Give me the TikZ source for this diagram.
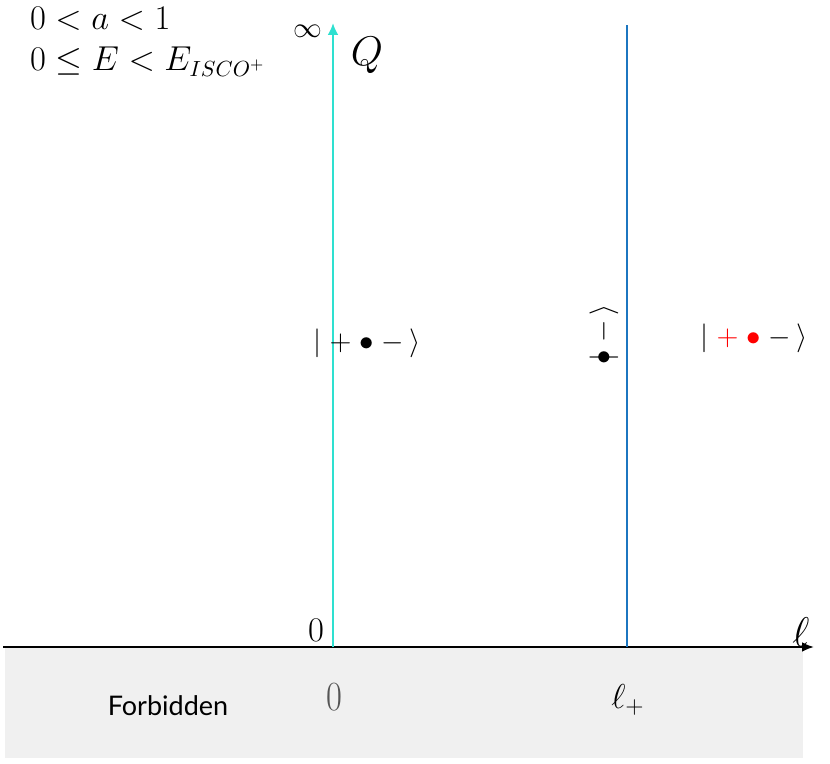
\documentclass[tikz,border=0pt]{standalone}
\usepackage{amsmath}
\usepackage{graphicx}
\usepackage{fontspec}
\newfontfamily\forbfont{Lato}
\usetikzlibrary{arrows.meta}
\definecolor{cyanline}{RGB}{46,224,208}
\definecolor{blueline}{RGB}{28,118,192}
\definecolor{forbgray}{RGB}{240,240,240}
\definecolor{zerogray}{RGB}{85,85,85}
\tikzset{
  lbl/.style={inner sep=0pt, outer sep=0pt},
  vline/.style={line width=1.3pt},
  condtext/.style={lbl,anchor=base west,font=\fontsize{16.2}{18}\selectfont},
}
\begin{document}
\begin{tikzpicture}[x=0.5pt,y=-0.5pt]
\useasboundingbox (0,0) rectangle (830,764);
% forbidden region
\fill[forbgray] (5,648) rectangle (803,758);
% axis
\coordinate (axL) at (3,647);
\coordinate (axR) at (814,647);
\draw[line width=1.3pt,-{Latex[length=6pt,width=5pt]}] (axL) -- (axR);
% vertical lines
\coordinate (c0) at (333,647);
\coordinate (c1) at (333,23);
\draw[vline,cyanline,-{Latex[length=6pt,width=5.5pt]}] (c0) -- (c1);
\coordinate (b0) at (627,647);
\coordinate (b1) at (627,25);
\draw[vline,blueline] (b0) -- (b1);
% labels
\node[condtext] (cond1) at (30,30) {$0<a<1$};
\node[condtext] (cond2) at (30,71) {$0\le E<E_{ISCO^+}$};
\node[lbl,font=\fontsize{15}{18}\selectfont] (inf) at (308,31) {$\infty$};
\node[lbl,font=\fontsize{21}{24}\selectfont] (Q) at (367,55) {$Q$};
\node[lbl,font=\fontsize{19}{22}\selectfont] (zero) at (316,630) {$0$};
\node[lbl,font=\fontsize{21}{24}\selectfont] (ell) at (801,632) {$\ell$};
\node[lbl,font=\fontsize{18}{22}\selectfont,text=zerogray] (zero2) at (334,697) {\scalebox{1}[1.2]{$0$}};
\node[lbl,font=\fontsize{18}{22}\selectfont] (ellp) at (628,700) {$\ell_+$};
\node[lbl,font=\forbfont\fontsize{13.5}{16}\selectfont] (forb) at (168,706) {Forbidden};
\node[lbl,font=\fontsize{14.5}{18}\selectfont] (ketL) at (367,343) {$|\;{+}\;{\bullet}\;{-}\,\rangle$};
\node[lbl,font=\fontsize{14.5}{18}\selectfont] (ketR) at (754,338) {$|\;\textcolor{red}{+}\;\textcolor{red}{\bullet}\;{-}\,\rangle$};
\node[lbl,rotate=90,anchor=west,font=\fontsize{14}{18}\selectfont] (ketM) at (604,365)
  {\ooalign{$\bullet$\cr\hidewidth$|$\hidewidth\cr}$\;{-}\,\rangle$};
\end{tikzpicture}
\end{document}
